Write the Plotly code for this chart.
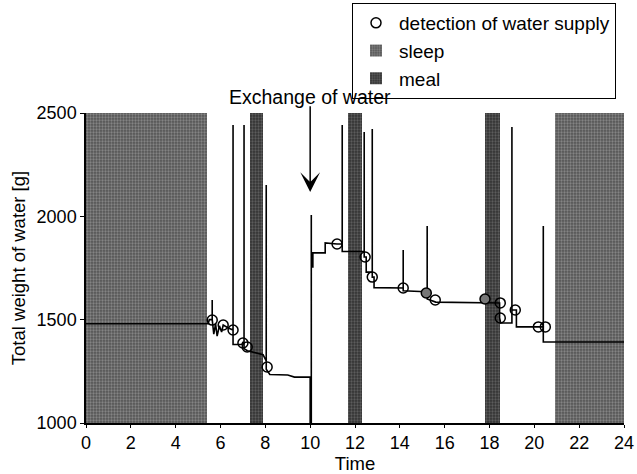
import plotly.graph_objects as go

# ---- data ----
line_t = [0, 5.45, 5.5, 5.63, 5.63, 5.63, 5.7, 5.78, 5.85, 5.95, 6.05, 6.12, 6.35, 6.56, 6.56, 6.56,
          6.95, 7.0, 7.05, 7.05, 7.05, 7.2, 7.9, 8.04, 8.04, 8.04, 8.2, 9.0, 9.3, 10.0, 10.0, 10.05,
          10.05, 10.05, 10.12, 10.12, 10.67, 10.67, 11.2, 11.43, 11.43, 11.43, 12.41, 12.41, 12.41,
          12.5, 12.5, 12.77, 12.77, 12.77, 12.85, 12.85, 14.15, 14.15, 14.15, 15.15, 15.22, 15.22,
          15.22, 15.6, 17.8, 18.45, 18.45, 18.5, 19.0, 19.0, 19.0, 19.2, 19.2, 20.4, 20.4, 20.4, 24]
line_w = [1480, 1480, 1500, 1500, 1595, 1500, 1430, 1480, 1420, 1470, 1440, 1474, 1460, 1450, 2442, 1380,
          1380, 1390, 1390, 2442, 1360, 1350, 1330, 1300, 2152, 1260, 1235, 1232, 1222, 1222, 1000, 1000,
          2006, 1755, 1755, 1823, 1823, 1871, 1866, 1866, 2442, 1830, 1830, 2408, 1803,
          1803, 1730, 1730, 2423, 1706, 1706, 1655, 1653, 1837, 1640, 1635, 1630, 1953,
          1600, 1585, 1581, 1581, 1508, 1484, 1484, 2432, 1547, 1547, 1465, 1465, 1953, 1392, 1392]

detect_t = [5.63, 6.12, 6.56, 7.0, 7.19, 8.08, 11.2, 12.45, 12.77, 14.15, 15.18, 15.58, 17.8, 18.48, 18.48, 19.15, 20.18, 20.49]
detect_w = [1498, 1474, 1450, 1387, 1368, 1271, 1866, 1803, 1706, 1653, 1629, 1595, 1600, 1581, 1508, 1547, 1465, 1465]
detect_filled = [False]*10 + [True, False, True] + [False]*5

sleep_start = [0, 20.9]
sleep_end = [5.4, 24]
meal_start = [7.3, 11.7, 17.8]
meal_end = [7.9, 12.3, 18.45]

exchange_t = 10.0
exchange_head_w = 2118
exchange_tail_w = 2540
exchange_text_w = 2577
y_min, y_max = 1000, 2500

FONT = "Liberation Sans, Arial, sans-serif"
W, H = 637, 474
ML, MR, MT, MB = 86, 8, 3, 51
PLOT_L, PLOT_R, PLOT_T, PLOT_B = 86, 624, 113, 423

fig = go.Figure()

def band(starts, ends, name, bg, fg, rank):
    fig.add_trace(go.Bar(
        x=[(s + e) / 2 for s, e in zip(starts, ends)],
        width=[e - s for s, e in zip(starts, ends)],
        y=[y_max - y_min] * len(starts), base=[y_min] * len(starts),
        name=name, legendrank=rank,
        marker=dict(color=bg, line=dict(width=0),
                    pattern=dict(shape=".", bgcolor=bg, fgcolor=fg, size=3, solidity=0.45)),
        hoverinfo="skip"))

band(sleep_start, sleep_end, "sleep", "#555555", "#b4b4b4", 2)
band(meal_start, meal_end, "meal", "#333333", "#858585", 3)

fig.add_trace(go.Scatter(x=line_t, y=line_w, mode="lines", showlegend=False,
                         line=dict(color="black", width=1.6)))

fig.add_trace(go.Scatter(
    x=detect_t, y=detect_w, mode="markers", name="detection of water supply", legendrank=1,
    marker=dict(symbol="circle", size=10,
                color=["#777777" if f else "rgba(255,255,255,0)" for f in detect_filled],
                line=dict(color="black", width=1.5))))

span = y_max - y_min
fig.add_annotation(x=exchange_t, y=(exchange_text_w - y_min) / span, yref="y domain",
                   text="Exchange of water", showarrow=False,
                   font=dict(size=19.5, color="black"), xanchor="center", yanchor="middle")
fig.add_annotation(x=exchange_t, y=(exchange_head_w - y_min) / span, yref="y domain",
                   ax=exchange_t, ay=(exchange_tail_w - y_min) / span, axref="x", ayref="y domain",
                   text="", showarrow=True, arrowhead=3, arrowsize=2.2, arrowwidth=1.5,
                   arrowcolor="black")

paper_w = W - ML - MR
paper_h = H - MT - MB
fig.update_layout(
    width=W, height=H,
    margin=dict(l=ML, r=MR, t=MT, b=MB),
    paper_bgcolor="white", plot_bgcolor="white",
    barmode="overlay", bargap=0,
    font=dict(family=FONT, size=18, color="black"),
    legend=dict(x=(352 - ML) / paper_w, y=1, xanchor="left", yanchor="top",
                bordercolor="black", borderwidth=1, bgcolor="white",
                font=dict(size=19), tracegroupgap=0, itemwidth=36),
    xaxis=dict(domain=[0, (PLOT_R - PLOT_L) / paper_w],
               range=[0, 24], dtick=2, showline=True, linecolor="black", linewidth=1.5,
               ticks="outside", ticklen=3, tickcolor="black", showgrid=False, zeroline=False,
               tickfont=dict(size=18), automargin=False,
               title=dict(text="Time", font=dict(size=18.5), standoff=0)),
    yaxis=dict(domain=[0, (PLOT_B - PLOT_T) / paper_h],
               range=[y_min, y_max], tickvals=[1000, 1500, 2000, 2500],
               showline=True, linecolor="black", linewidth=1.5,
               ticks="outside", ticklen=4, tickcolor="black", showgrid=False, zeroline=False,
               tickfont=dict(size=18), automargin=False,
               title=dict(text="Total weight of water [g]", font=dict(size=18.5), standoff=6)),
)

fig.write_html("out.html", config={"displayModeBar": False},
               post_script="document.body.style.margin='0px';")
